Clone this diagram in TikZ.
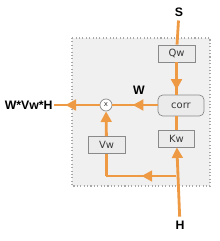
\documentclass[tikz,border=0pt]{standalone}
\usepackage{fontspec}
\setmainfont{DejaVu Sans}
\newfontfamily\lblfont{Liberation Sans}
\usetikzlibrary{arrows.meta, decorations.markings}
\usepackage{xcolor}
\definecolor{atorange}{HTML}{EE9A45}
\definecolor{atpanel}{HTML}{F0F0F0}
\definecolor{atbox}{HTML}{EBEBEB}
\definecolor{atedge}{HTML}{8A8A8A}
\definecolor{atdots}{HTML}{A8A8A8}
\definecolor{attext}{HTML}{3A3A3A}

\begin{document}
\begin{tikzpicture}[x=0.03cm, y=-0.03cm,
    flow/.style={draw=atorange, line width=2.4pt},
    tip/.style={-{Triangle[length=3.2mm, width=3.2mm]}},
    arrowat/.style={postaction={decorate}, decoration={markings,
        mark=at position #1 with {\arrow{Triangle[length=3.2mm, width=3.2mm, color=atorange]}}}},
    opbox/.style={draw=atedge, fill=atbox, line width=0.6pt, text=attext,
        font=\fontsize{8.5}{9}\selectfont, inner sep=0pt},
    lbl/.style={font=\lblfont\fontsize{10.5}{11}\selectfont\bfseries, text=black}]
  \useasboundingbox (0,0) rectangle (220,241);
  % attention block
  \fill[atpanel] (72,38) rectangle (210,186);
  \draw[atdots, line width=0.9pt, dotted] (72,38) rectangle (210,186);

  \node[opbox, minimum width=1.11cm, minimum height=0.51cm] (qw) at (176.5,53.5) {Qw};
  \node[opbox, rounded corners=4pt, minimum width=1.38cm, minimum height=0.63cm] (corr) at (181,105.5) {corr};
  \node[opbox, minimum width=1.08cm, minimum height=0.51cm] (kw) at (176.5,138.5) {Kw};
  \node[opbox, minimum width=1.11cm, minimum height=0.51cm] (vw) at (106.5,145) {Vw};
  \node[circle, draw=atedge, fill=white, line width=0.6pt, minimum size=0.36cm,
        inner sep=0pt, font=\fontsize{6}{6}\selectfont, text=attext] (mul) at (106,105) {x};

  \node[lbl] (s) at (179,12) {S};
  \node[lbl] (h) at (180,225) {H};
  \node[lbl, anchor=east, inner sep=1pt] (out) at (54,105) {W*Vw*H};
  \coordinate (split) at (176.5,176);
  \coordinate (corner) at (106.5,176);

  \draw[flow] (s) -- (qw);
  \draw[flow, arrowat=0.85] (qw) -- (corr.north -| qw.south);
  \draw[flow, arrowat=0.55] (corr.west |- mul) -- (mul);
  \node[lbl, anchor=south] (w) at (139,99) {W};
  \draw[flow, arrowat=0.75] (mul) -- (out);
  \draw[flow] (corr.south -| kw.north) -- (kw);
  \draw[flow, tip] (h) -- (kw);
  \draw[flow, arrowat=0.5] (split) -- (corner);
  \draw[flow] (corner) -- (vw);
  \draw[flow, tip] (vw) -- (mul);
\end{tikzpicture}
\end{document}
